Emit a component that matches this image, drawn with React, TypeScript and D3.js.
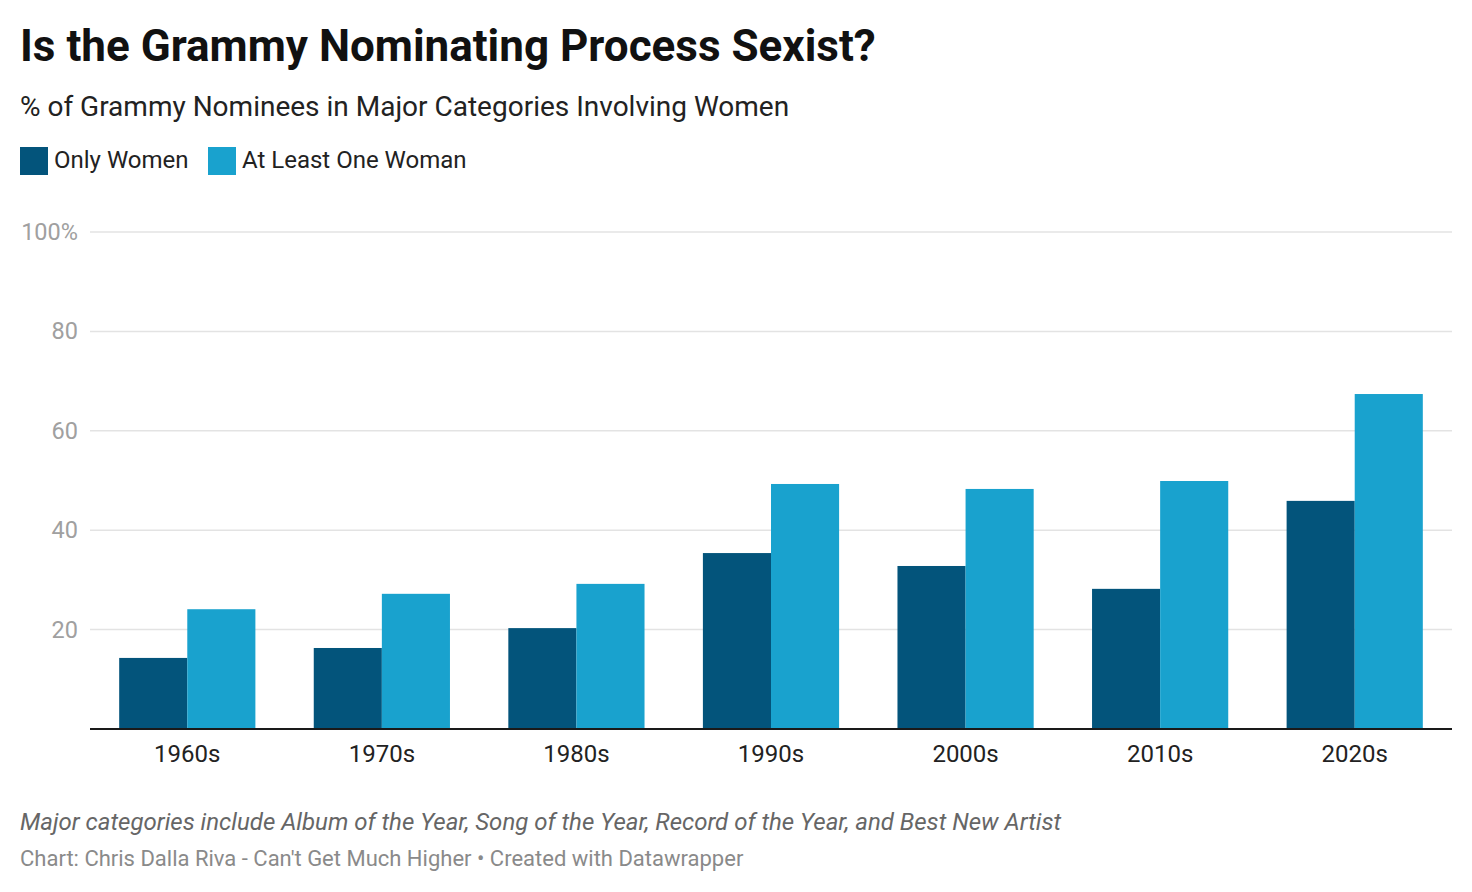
import * as d3 from "d3";

const decades = ["1960s", "1970s", "1980s", "1990s", "2000s", "2010s", "2020s"];
const onlyWomen = [14.3, 16.3, 20.3, 35.4, 32.8, 28.2, 45.9];
const atLeastOne = [24.1, 27.2, 29.2, 49.3, 48.3, 49.9, 67.4];
const yTicks = [20, 40, 60, 80, 100];

const series = [
  { key: "only", label: "Only Women", color: "#03547b", values: onlyWomen },
  { key: "atLeast", label: "At Least One Woman", color: "#19a2ce", values: atLeastOne },
];

const font = "Roboto, 'Noto Sans', sans-serif";

export default function App() {
  const width = 1472;
  const height = 892;
  const margin = { left: 90, right: 20, top: 232, bottom: 163 };
  const baseline = height - margin.bottom;

  const x0 = d3
    .scaleBand()
    .domain(decades)
    .range([margin.left, width - margin.right])
    .paddingInner(0.3)
    .paddingOuter(0.15);
  const x1 = d3
    .scaleBand()
    .domain(series.map((s) => s.key))
    .range([0, x0.bandwidth()]);
  const y = d3.scaleLinear().domain([0, 100]).range([baseline, margin.top]);

  return (
    <svg width={width} height={height} style={{ position: "absolute", left: 0, top: 0, background: "#fff" }} fontFamily={font}>
      <text x={20} y={61} fontSize={44} fontWeight={700} fill="#111">
        Is the Grammy Nominating Process Sexist?
      </text>
      <text x={20} y={116} fontSize={28} fill="#222">
        % of Grammy Nominees in Major Categories Involving Women
      </text>
      <g transform="translate(20,147)">
        {series.map((s, i) => (
          <g key={s.key} transform={`translate(${i * 188}, 0)`}>
            <rect width={28} height={28} fill={s.color} />
            <text x={34} y={21} fontSize={24} fill="#222">
              {s.label}
            </text>
          </g>
        ))}
      </g>
      {yTicks.map((t) => (
        <g key={t}>
          <line x1={margin.left} x2={width - margin.right} y1={y(t)} y2={y(t)} stroke="#e3e3e3" strokeWidth={1.5} />
          <text x={78} y={y(t) + 8} textAnchor="end" fontSize={23.5} fill="#a0a0a0">
            {t === 100 ? "100%" : t}
          </text>
        </g>
      ))}
      {decades.map((d, i) => {
        const gx = x0(d) ?? 0;
        return (
          <g key={d}>
            {series.map((s) => (
              <rect
                key={s.key}
                x={gx + (x1(s.key) ?? 0)}
                y={y(s.values[i])}
                width={x1.bandwidth()}
                height={baseline - y(s.values[i])}
                fill={s.color}
              />
            ))}
            <text x={gx + x0.bandwidth() / 2} y={762} textAnchor="middle" fontSize={24} fill="#222">
              {d}
            </text>
          </g>
        );
      })}
      <line x1={margin.left} x2={width - margin.right} y1={baseline} y2={baseline} stroke="#1a1a1a" strokeWidth={2} />
      <text x={20} y={830} fontSize={24} fontStyle="italic" fill="#666">
        Major categories include Album of the Year, Song of the Year, Record of the Year, and Best New Artist
      </text>
      <text x={20} y={866} fontSize={22} fill="#8a8a8a">
        Chart: Chris Dalla Riva - Can't Get Much Higher • Created with Datawrapper
      </text>
    </svg>
  );
}
